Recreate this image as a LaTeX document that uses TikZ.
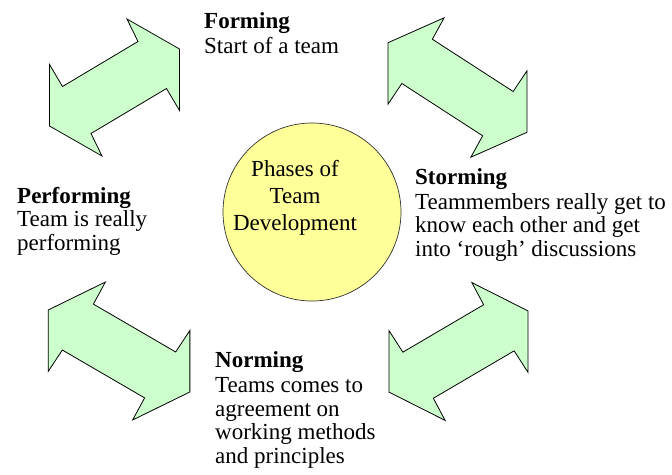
\documentclass[tikz,border=0pt]{standalone}
\usepackage{fontspec}
\setmainfont{Liberation Serif}
\usetikzlibrary{shapes}
\definecolor{mint}{HTML}{CCFFCC}
\definecolor{pale}{HTML}{FFFF99}
\tikzstyle{twoway}=[draw=black,fill=mint,line width=0.8pt,line join=miter]
\tikzstyle{hub}=[circle,draw=black!80,fill=pale,minimum size=178pt,inner sep=0pt,line width=0.7pt]
\tikzstyle{phase}=[anchor=base west,align=left,inner sep=0pt,font=\fontsize{23}{23.5}\selectfont]
\tikzstyle{hubtext}=[anchor=base,align=center,inner sep=0pt,font=\fontsize{23}{27}\selectfont]

\begin{document}
\begin{tikzpicture}[x=1pt,y=-1pt]
    \useasboundingbox (0,0) rectangle (672,474);

    % the four double arrows round the circle
    \foreach \cx/\cy/\sx/\sl in {114.5/87.5/1/0, 457.5/87.5/-1.07/-0.09, 119/351/-1.09/-0.035, 458.5/351.5/1.07/0.03}
        \draw[twoway,shift={(\cx,\cy)},yslant=\sl,xscale=\sx]
            (-65,-23) -- (-65,38.5) -- (-12.5,68.5) -- (-23.5,46) -- (52,1)
            -- (65,23) -- (65,-38.5) -- (12.5,-68.5) -- (23.5,-46) -- (-52,-1) -- cycle;

    % centre (base = last line)
    \node[hub] (hub) at (312,212) {};
    \node[hubtext] (hublabel) at (295,230) {Phases of\\Team\\Development};

    % the phases, placed by the baseline of their last line
    \node[phase] (forming) at (204,53) {\textbf{Forming}\\[1.5pt]Start of a team};
    \node[phase] (storming) at (415,256) {\textbf{Storming}\\[1pt]Teammembers really get to\\know each other and get\\into `rough' discussions};
    \node[phase] (performing) at (17,250) {\textbf{Performing}\\Team is really\\performing};
    \node[phase] (norming) at (215,463) {\textbf{Norming}\\[2pt]Teams comes to\\agreement on\\working methods\\and principles};
\end{tikzpicture}
\end{document}
